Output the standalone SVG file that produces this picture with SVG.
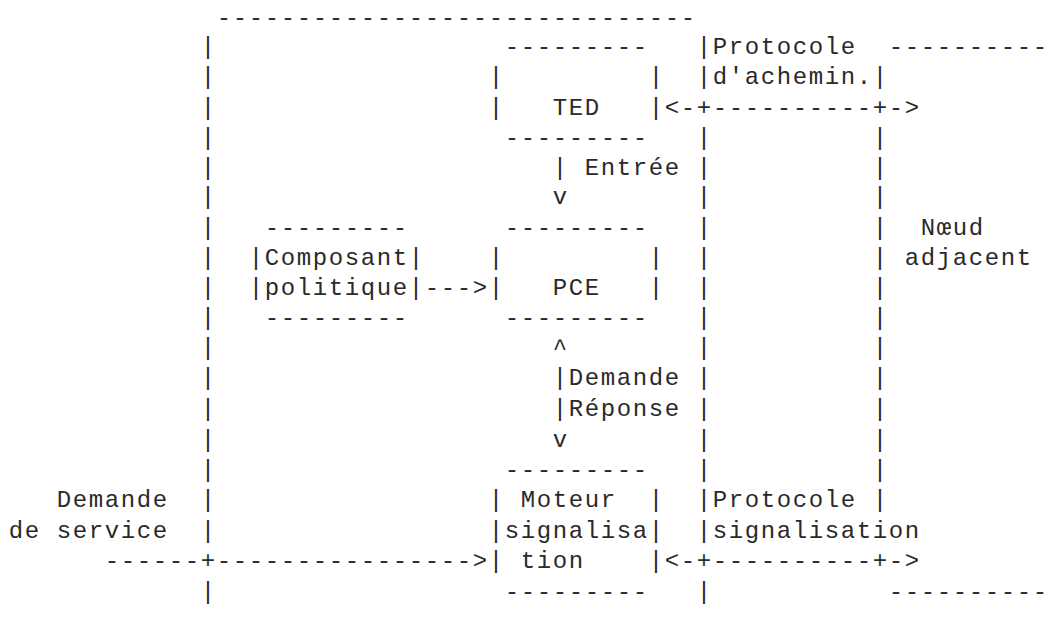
<svg xmlns="http://www.w3.org/2000/svg" width="1052" height="617" viewBox="0 0 1052 617" xml:space="preserve">
<style>
text{font-family:"Liberation Mono","Courier New",monospace;font-size:24px;letter-spacing:1.6px;fill:#2a2a2a;white-space:pre}
</style>
<rect width="1052" height="617" fill="#fff"/>
<g id="pce-node">
<text x="216.8" y="25">------------------------------</text>
<text x="200.8" y="54">|</text><text x="200.8" y="83.5">|</text><text x="200.8" y="115">|</text><text x="200.8" y="145">|</text><text x="200.8" y="175">|</text><text x="200.8" y="204">|</text><text x="200.8" y="235">|</text><text x="200.8" y="264.5">|</text><text x="200.8" y="295">|</text><text x="200.8" y="325">|</text><text x="200.8" y="355">|</text><text x="200.8" y="385">|</text><text x="200.8" y="416">|</text><text x="200.8" y="446.5">|</text><text x="200.8" y="477">|</text><text x="200.8" y="507">|</text><text x="200.8" y="538">|</text><text x="200.8" y="599">|</text>
<text x="696.8" y="54">|</text><text x="696.8" y="83.5">|</text><text x="696.8" y="145">|</text><text x="696.8" y="175">|</text><text x="696.8" y="204">|</text><text x="696.8" y="235">|</text><text x="696.8" y="264.5">|</text><text x="696.8" y="295">|</text><text x="696.8" y="325">|</text><text x="696.8" y="355">|</text><text x="696.8" y="385">|</text><text x="696.8" y="416">|</text><text x="696.8" y="446.5">|</text><text x="696.8" y="477">|</text><text x="696.8" y="507">|</text><text x="696.8" y="538">|</text><text x="696.8" y="599">|</text>
</g>
<g id="ted">
<text x="504.8" y="54">---------</text>
<text x="488.8" y="83.5">|         |</text>
<text x="488.8" y="115">|   TED   |</text>
<text x="504.8" y="145">---------</text>
</g>
<g id="pce">
<text x="504.8" y="235">---------</text>
<text x="488.8" y="264.5">|         |</text>
<text x="488.8" y="295">|   PCE   |</text>
<text x="504.8" y="325">---------</text>
</g>
<g id="policy">
<text x="264.8" y="235">---------</text>
<text x="248.8" y="264.5">|Composant|</text>
<text x="248.8" y="295">|politique|</text>
<text x="264.8" y="325">---------</text>
</g>
<g id="signaling-engine">
<text x="504.8" y="477">---------</text>
<text x="488.8" y="507">| Moteur  |</text>
<text x="488.8" y="538">|signalisa|</text>
<text x="488.8" y="568">| tion    |</text>
<text x="504.8" y="599">---------</text>
</g>
<g id="adjacent-node">
<text x="888.8" y="54">----------</text>
<text x="872.8" y="83.5">|</text><text x="872.8" y="145">|</text><text x="872.8" y="175">|</text><text x="872.8" y="204">|</text><text x="872.8" y="235">|</text><text x="872.8" y="264.5">|</text><text x="872.8" y="295">|</text><text x="872.8" y="325">|</text><text x="872.8" y="355">|</text><text x="872.8" y="385">|</text><text x="872.8" y="416">|</text><text x="872.8" y="446.5">|</text><text x="872.8" y="477">|</text><text x="872.8" y="507">|</text>
<text x="920.8" y="235">Nœud</text>
<text x="904.8" y="264.5">adjacent</text>
<text x="888.8" y="599">----------</text>
</g>
<g id="connectors">
<text x="712.8" y="54">Protocole</text>
<text x="712.8" y="83.5">d'achemin.</text>
<text x="664.8" y="115">&lt;-+----------+-&gt;</text>
<text x="552.8" y="175">| Entrée</text>
<text x="552.8" y="204">v</text>
<text x="424.8" y="295">---&gt;</text>
<text x="552.8" y="355">^</text>
<text x="552.8" y="385">|Demande</text>
<text x="552.8" y="416">|Réponse</text>
<text x="552.8" y="446.5">v</text>
<text x="56.8" y="507">Demande</text>
<text x="8.8" y="538">de service</text>
<text x="104.8" y="568">------+----------------&gt;</text>
<text x="712.8" y="507">Protocole</text>
<text x="712.8" y="538">signalisation</text>
<text x="664.8" y="568">&lt;-+----------+-&gt;</text>
</g>
</svg>
